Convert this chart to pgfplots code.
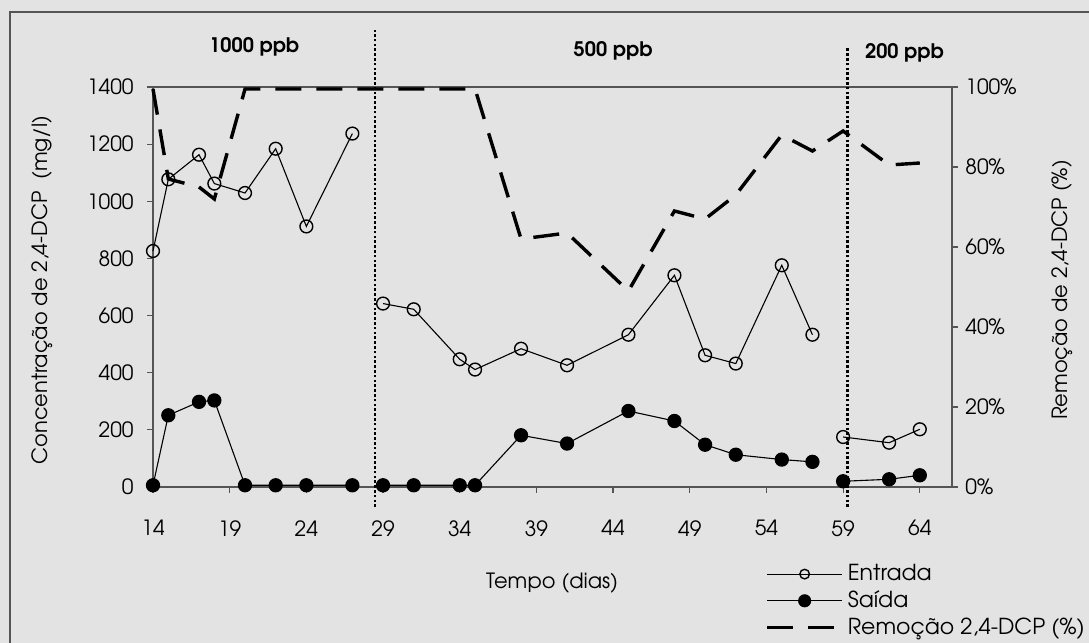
\documentclass[border=0pt]{standalone}
\usepackage{fontspec}
\setmainfont{TeX Gyre Adventor}
\usepackage{pgfplots}
\pgfplotsset{compat=1.18}
\definecolor{bg}{RGB}{227,227,227}
\definecolor{axc}{RGB}{85,85,85}
\begin{document}
\fontsize{10.5}{12}\selectfont
\begin{tikzpicture}
% background and frame (1 px = 0.5 pt)
\fill[bg] (0,0) rectangle (544.5pt,321.5pt);
\draw[axc, line width=0.6pt] (5pt,0) -- (5pt,315.5pt) -- (544.5pt,315.5pt);
\pgfplotsset{
  common/.style={
    at={(76.5pt,78pt)}, anchor=south west,
    width=399.5pt, height=200pt, scale only axis,
    xmin=14, xmax=66.1,
    unbounded coords=jump,
    /pgf/number format/assume math mode=true,
    /pgf/number format/set thousands separator={},
    tick align=outside, major tick length=3pt,
    axis line style={axc, line width=0.6pt},
    tick style={axc, line width=0.6pt},
    clip=false,
  },
}
\begin{axis}[common,
  ymin=0, ymax=1400,
  xtick={14,19,...,64}, ytick={0,200,...,1400},
  xtick pos=bottom, ytick pos=left,
  xticklabel style={yshift=-10pt},
  yticklabel style={xshift=-3pt},
  xlabel={Tempo (dias)},
  xlabel style={at={(axis description cs:0.4995,-0.24)}, anchor=center},
  ylabel={Concentração de 2,4-DCP \ (mg/l)},
  ylabel style={at={(axis description cs:-0.139,0.4925)}, anchor=center},
]
% Entrada
\addplot[black, line width=0.55pt, mark=o, mark size=3.2pt, mark options={line width=0.7pt, fill=bg}] coordinates {
(14,826) (15,1077) (17,1163) (18,1062) (20,1029) (22,1184) (24,912) (27,1237)
(28,nan)
(29,642) (31,622) (34,447) (35,411) (38,484) (41,426) (45,533) (48,741) (50,461) (52,432) (55,776) (57,533)
(58,nan)
(59,175) (62,155) (64,202)
};
% Saida
\addplot[black, line width=0.55pt, mark=*, mark size=3.3pt] coordinates {
(14,6) (15,251) (17,298) (18,303) (20,6) (22,6) (24,6) (27,6)
(28,nan)
(29,6) (31,6) (34,6) (35,6) (38,181) (41,152) (45,266) (48,231) (50,148) (52,113) (55,96) (57,88)
(58,nan)
(59,20) (62,27) (64,41)
};
% vertical dotted separators
\draw[black, line width=1.4pt, dash pattern=on 1.3pt off 1.1pt] (axis cs:28.47,-70) -- (axis cs:28.47,1600);
\draw[black, line width=1.4pt, dash pattern=on 1.3pt off 1.1pt] (axis cs:59.3,-70) -- (axis cs:59.3,1536);
% period labels
\node[font=\bfseries\fontsize{10}{12}\selectfont] at (axis cs:20.6,1541) {1000 ppb};
\node[font=\bfseries\fontsize{10}{12}\selectfont] at (axis cs:44.0,1525) {500 ppb};
\node[font=\bfseries\fontsize{10}{12}\selectfont] at (axis cs:63.0,1518) {200 ppb};
\end{axis}
\begin{axis}[common,
  ymin=0, ymax=100,
  axis x line=none, axis y line*=right,
  ytick={0,20,...,100},
  yticklabels={0\%,20\%,40\%,60\%,80\%,100\%},
  ylabel={Remoção de 2,4-DCP (\%)},
  ylabel style={at={(axis description cs:1.1377,0.4925)}, anchor=center},
  legend style={at={(axis description cs:0.766,-0.19)}, anchor=north west,
    draw=none, fill=none, row sep=2.5pt, inner sep=0pt,
    font=\fontsize{11}{12.5}\selectfont,
    nodes={inner xsep=2pt, inner ysep=0.5pt}},
  legend cell align=left,
  legend image code/.code={\draw[mark repeat=2,mark phase=2,#1] plot coordinates {(0pt,0pt) (18.75pt,0pt) (37.5pt,0pt)};},
]
\addlegendimage{black, line width=0.55pt, mark=o, mark size=2.4pt, mark options={line width=0.7pt, fill=bg}}
\addlegendentry{Entrada}
\addlegendimage{black, line width=0.55pt, mark=*, mark size=3pt}
\addlegendentry{Saída}
\addplot[black, line width=1.7pt, dash pattern=on 13pt off 7.5pt] coordinates {
(14,99.5) (15,77) (17,75) (18,72) (20,99.5) (22,99.5) (24,99.5) (27,99.5) (29,99.5) (31,99.5) (34,99.5) (35,99.5)
(38,62) (41,63.5) (45,49) (48,69) (50,67) (52,73) (55,88) (57,84) (59,89) (62,80.5) (64,81)
};
\addlegendentry{Remoção 2,4-DCP (\%)}
\end{axis}
\pgfresetboundingbox
\useasboundingbox (0,0) rectangle (544.5pt,321.5pt);
\end{tikzpicture}
\end{document}
